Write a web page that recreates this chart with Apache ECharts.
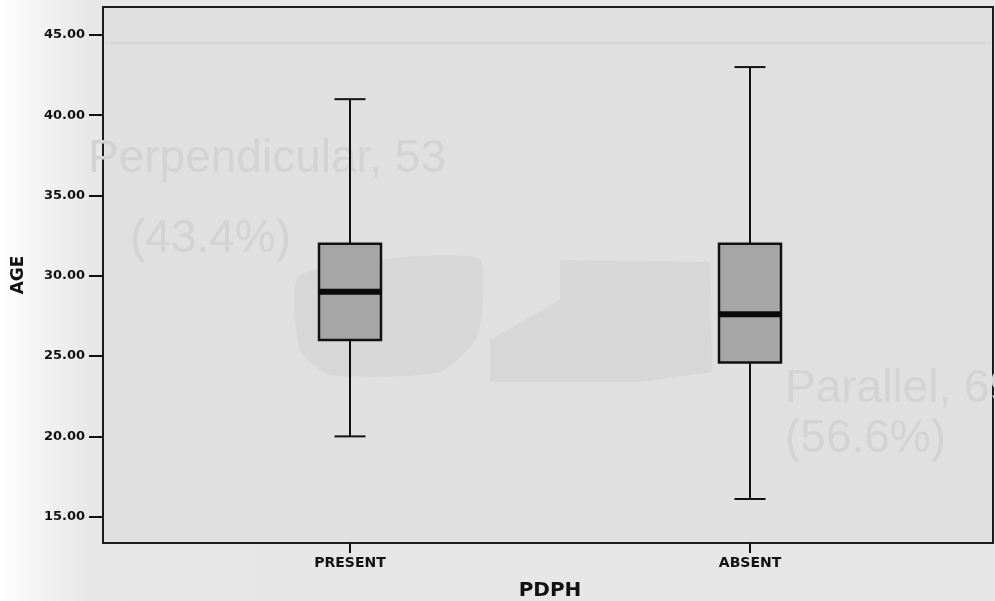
<!DOCTYPE html>
<html lang="en">
<head>
<meta charset="utf-8">
<title>AGE by PDPH</title>
<script src="https://cdn.jsdelivr.net/npm/echarts@6/dist/echarts.min.js"></script>
<style>
  html, body { margin: 0; padding: 0; }
  body {
    width: 995px; height: 601px; overflow: hidden;
    background: linear-gradient(to right, #ffffff 0px, #f3f3f3 40px, #e7e7e7 90px, #e6e6e6 100%);
  }
  #chart { width: 995px; height: 601px; }
</style>
</head>
<body>
<div id="chart"></div>
<script>
// data
var categories = ['PRESENT', 'ABSENT'];
var minVals = [20, 16.1];
var q1Vals = [26, 24.6];
var medianVals = [29, 27.6];
var q3Vals = [32, 32];
var maxVals = [41, 43];
var yTicks = [15, 20, 25, 30, 35, 40, 45];

var boxData = categories.map(function (c, i) {
  return [i, minVals[i], q1Vals[i], medianVals[i], q3Vals[i], maxVals[i]];
});

var Y_MIN = 13.36, Y_MAX = 46.74;
var labelFont = 'DejaVu Sans';

function renderBox(params, api) {
  var x = api.value(0);
  var pMin = api.coord([x, api.value(1)]);
  var pQ1 = api.coord([x, api.value(2)]);
  var pMed = api.coord([x, api.value(3)]);
  var pQ3 = api.coord([x, api.value(4)]);
  var pMax = api.coord([x, api.value(5)]);
  var band = api.size([1, 0])[0];
  var half = band * 0.0775;   // box half width (~31px)
  var cap = half / 2;         // caps are half the box width
  var cx = pMed[0];
  var line = { stroke: '#111', lineWidth: 2 };
  return {
    type: 'group',
    children: [
      { type: 'line', shape: { x1: cx, y1: pMax[1], x2: cx, y2: pQ3[1] }, style: line },
      { type: 'line', shape: { x1: cx, y1: pQ1[1], x2: cx, y2: pMin[1] }, style: line },
      { type: 'line', shape: { x1: cx - cap, y1: pMax[1], x2: cx + cap, y2: pMax[1] }, style: line },
      { type: 'line', shape: { x1: cx - cap, y1: pMin[1], x2: cx + cap, y2: pMin[1] }, style: line },
      { type: 'rect', shape: { x: cx - half, y: pQ3[1], width: half * 2, height: pQ1[1] - pQ3[1] },
        style: { fill: '#a6a6a6', stroke: '#111', lineWidth: 2.5 } },
      { type: 'line', shape: { x1: cx - half, y1: pMed[1], x2: cx + half, y2: pMed[1] },
        style: { stroke: '#0a0a0a', lineWidth: 6 } }
    ]
  };
}

var chart = echarts.init(document.getElementById('chart'), null, { renderer: 'canvas' });
chart.setOption({
  backgroundColor: 'transparent',
  animation: false,
  grid: [
    // the frame
    { left: 103, right: 2, top: 7, bottom: 58, show: true, backgroundColor: '#e0e0e0',
      borderColor: '#1c1c1c', borderWidth: 2, containLabel: false, outerBoundsMode: 'none' },
    // the boxes
    { left: 150, right: 45, top: 7, bottom: 58, containLabel: false, outerBoundsMode: 'none' }
  ],
  xAxis: [
    { gridIndex: 0, type: 'category', data: [''], show: false },
    { gridIndex: 1, type: 'category', data: categories,
      axisLine: { show: false },
      axisTick: { show: true, alignWithLabel: true, length: 10, lineStyle: { color: '#111', width: 2 } },
      axisLabel: { margin: 13, color: '#111', fontFamily: labelFont, fontWeight: 'bold', fontSize: 14 },
      name: 'PDPH', nameLocation: 'middle', nameGap: 38,
      nameTextStyle: { color: '#111', fontFamily: labelFont, fontWeight: 'bold', fontSize: 20 },
      splitLine: { show: false } }
  ],
  yAxis: [
    { gridIndex: 0, type: 'value', min: Y_MIN, max: Y_MAX,
      axisLine: { show: false },
      axisTick: { show: true, length: 14, customValues: yTicks, lineStyle: { color: '#111', width: 2 } },
      axisLabel: { margin: 18, customValues: yTicks, color: '#111', fontFamily: labelFont,
        fontWeight: 'bold', fontSize: 13,
        formatter: function (v) { return v.toFixed(2); } },
      splitLine: { show: false },
      name: 'AGE', nameLocation: 'middle', nameGap: 76, nameRotate: 90,
      nameTextStyle: { color: '#111', fontFamily: labelFont, fontWeight: 'bold', fontSize: 17 } },
    { gridIndex: 1, type: 'value', min: Y_MIN, max: Y_MAX, show: false }
  ],
  graphic: [
    // faint bleed-through from the other side of the scanned page
    { type: 'line', z: 1, shape: { x1: 105, y1: 43, x2: 991, y2: 43 },
      style: { stroke: '#d8d8d8', lineWidth: 3 } },
    { type: 'polygon', z: 1,
      shape: { points: [[300, 275], [478, 258], [478, 335], [440, 372], [330, 375], [300, 350]], smooth: 0.2 },
      style: { fill: '#d7d7d7' } },
    { type: 'polygon', z: 1,
      shape: { points: [[560, 260], [710, 262], [712, 372], [640, 382], [490, 382], [490, 340], [560, 300]] },
      style: { fill: '#d7d7d7' } },
    { type: 'text', z: 1, left: 88, top: 136,
      style: { text: 'Perpendicular, 53', fill: '#d3d3d3', font: '46px "Liberation Sans"' } },
    { type: 'text', z: 1, left: 130, top: 216,
      style: { text: '(43.4%)', fill: '#d3d3d3', font: '46px "Liberation Sans"' } },
    { type: 'text', z: 1, left: 785, top: 366,
      style: { text: 'Parallel, 69', fill: '#d3d3d3', font: '46px "Liberation Sans"' } },
    { type: 'text', z: 1, left: 785, top: 416,
      style: { text: '(56.6%)', fill: '#d3d3d3', font: '46px "Liberation Sans"' } }
  ],
  series: [
    { type: 'custom', xAxisIndex: 1, yAxisIndex: 1, z: 5,
      renderItem: renderBox,
      encode: { x: 0, y: [1, 2, 3, 4, 5] },
      data: boxData }
  ]
});
</script>
</body>
</html>
